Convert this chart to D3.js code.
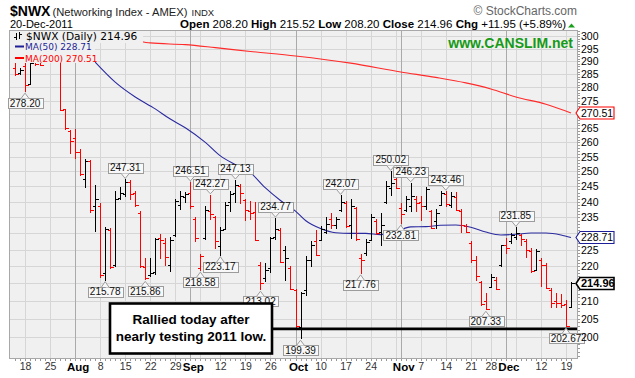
<!DOCTYPE html>
<html>
<head>
<meta charset="utf-8">
<title>$NWX Daily</title>
<script src="https://d3js.org/d3.v7.min.js"></script>
<style>
  body { margin: 0; background: #fff; }
  svg { display: block; font-family: "Liberation Sans", Arial, sans-serif; }
</style>
</head>
<body>
<div id="chart"></div>
<script>
// trading days Jul 14 - Dec 20 2011 (weekends and market holidays skipped)
const firstDay = "2011-07-14", lastDay = "2011-12-20";
const holidays = ["2011-09-05", "2011-11-24"];

// daily OHLC
const open = [
  287.5, 285.3, 288.0, 281.2, 291.0, 290.5, 289.6, 290.5, 290.3, 291.0,
  271.8, 264.0, 261.5, 256.8, 247.5, 253.5, 238.5, 238.5, 218.0, 231.0,
  220.5, 241.2, 242.5, 246.5, 242.8, 236.5, 219.8, 217.3, 218.2, 228.5,
  227.0, 220.5, 229.5, 239.0, 241.5, 243.0, 234.5, 219.5, 228.5, 237.0,
  235.0, 226.0, 231.5, 239.8, 243.0, 245.3, 240.5, 237.0, 236.8, 220.5,
  216.5, 219.5, 229.0, 231.0, 225.0, 219.5, 213.0, 202.8, 213.0, 222.0,
  227.5, 228.0, 230.5, 234.5, 232.5, 237.5, 239.5, 232.5, 238.0, 222.5,
  224.0, 228.0, 234.0, 230.5, 239.8, 244.5, 247.5, 238.0, 237.5, 238.5,
  241.0, 240.0, 238.5, 237.0, 234.0, 239.0, 242.5, 238.8, 241.5, 237.0,
  232.2, 227.0, 222.0, 215.5, 210.0, 214.0, 216.0, 220.5, 226.5, 227.5,
  229.0, 229.5, 227.5, 224.5, 219.0, 222.0, 220.5, 213.0, 210.0, 209.5,
  209.0, 208.20
];
const high = [
  289.3, 287.6, 289.5, 290.5, 292.5, 292.0, 292.5, 292.0, 293.0, 291.8,
  272.0, 264.5, 264.8, 257.6, 254.2, 253.8, 245.5, 239.5, 232.0, 231.6,
  243.5, 244.8, 247.31, 247.2, 243.6, 237.0, 222.5, 222.5, 228.5, 229.8,
  228.6, 228.8, 241.0, 243.4, 243.2, 246.51, 235.0, 223.8, 238.7, 242.27,
  235.4, 232.0, 239.8, 243.5, 247.13, 245.7, 240.8, 240.3, 240.0, 221.2,
  221.0, 229.0, 234.77, 231.8, 226.0, 220.0, 213.5, 212.6, 223.0, 227.5,
  231.0, 232.3, 235.0, 236.5, 235.0, 242.07, 240.3, 240.8, 238.4, 223.6,
  228.2, 236.2, 234.4, 236.3, 246.8, 250.02, 248.5, 239.7, 242.0, 246.23,
  241.9, 242.0, 244.8, 237.5, 237.6, 243.6, 243.46, 243.3, 243.2, 237.6,
  232.8, 227.6, 223.2, 215.6, 212.2, 217.7, 216.9, 226.5, 228.7, 230.2,
  231.85, 229.8, 228.2, 225.5, 225.1, 222.5, 221.1, 213.7, 212.2, 212.0,
  210.1, 215.52
];
const low = [
  284.2, 284.8, 278.20, 280.8, 288.2, 288.0, 289.5, 289.6, 289.7, 271.2,
  264.5, 256.0, 254.2, 248.6, 244.5, 236.5, 230.4, 216.5, 215.78, 219.3,
  219.8, 240.5, 241.6, 240.5, 238.2, 219.5, 215.86, 216.8, 217.5, 222.2,
  220.0, 218.2, 228.8, 237.5, 239.5, 237.6, 227.2, 218.58, 228.0, 234.3,
  225.2, 223.17, 231.0, 236.7, 239.7, 239.2, 234.0, 234.3, 227.5, 213.02,
  215.5, 218.0, 228.0, 221.0, 215.8, 213.0, 202.5, 199.39, 211.5, 219.8,
  223.0, 227.5, 229.8, 231.3, 231.3, 236.8, 231.8, 228.2, 227.7, 217.76,
  223.2, 227.7, 229.6, 226.2, 239.2, 242.0, 244.0, 232.81, 236.8, 236.8,
  236.8, 234.0, 237.5, 231.2, 231.5, 238.5, 238.4, 238.0, 236.9, 230.0,
  230.0, 221.0, 215.6, 208.4, 207.33, 213.8, 213.0, 219.9, 223.6, 226.8,
  228.0, 226.0, 222.5, 218.0, 218.8, 214.0, 213.3, 208.1, 208.1, 208.0,
  202.67, 208.20
];
const close = [
  285.0, 286.8, 280.8, 289.5, 289.0, 288.7, 291.5, 290.2, 291.0, 271.6,
  265.0, 260.5, 256.8, 249.2, 253.5, 237.2, 241.0, 217.3, 231.2, 219.7,
  240.9, 243.0, 246.5, 242.5, 239.0, 220.0, 216.5, 218.0, 228.2, 227.8,
  222.9, 228.0, 240.2, 242.0, 242.5, 238.5, 228.5, 223.0, 237.5, 236.0,
  227.5, 231.0, 239.0, 242.5, 245.5, 243.0, 237.5, 236.5, 227.8, 215.0,
  219.0, 228.5, 231.3, 221.3, 222.5, 213.5, 203.0, 212.3, 221.8, 226.5,
  223.5, 231.5, 233.0, 232.5, 234.5, 239.8, 232.2, 238.5, 228.2, 222.0,
  227.3, 235.0, 230.0, 232.5, 245.0, 246.0, 244.5, 236.0, 241.0, 242.0,
  239.5, 238.5, 244.0, 231.6, 236.5, 242.8, 239.2, 241.8, 237.4, 232.5,
  230.5, 222.0, 217.0, 209.0, 207.6, 216.9, 213.4, 226.3, 225.5, 229.5,
  230.0, 228.1, 225.0, 218.6, 224.6, 220.5, 213.8, 209.5, 209.3, 208.9,
  203.01, 214.96
];

// moving averages read at some bars: bar index and value
const ma50Idx = [16, 20, 24, 28, 31, 34, 38, 41, 44, 47, 50, 53, 56, 58, 61, 64,
  67, 70, 73, 76, 79, 82, 85, 88, 91, 94, 97, 100, 103, 106, 109, 111];
const ma50Val = [289.7, 282.0, 276.4, 272.0, 268.3, 265.2, 260.0, 255.3, 252.3, 249.6,
  244.5, 240.4, 237.0, 234.0, 231.5, 230.2, 230.0, 230.0, 229.6, 230.5,
  232.0, 232.1, 232.5, 232.6, 231.9, 230.4, 229.5, 229.7, 230.1, 230.1, 229.5, 228.71];
const ma200Idx = [25, 27, 34, 40, 47, 56, 67, 77, 84, 90, 95, 100, 106, 111];
const ma200Val = [298.0, 297.3, 296.6, 295.4, 293.9, 292.1, 289.3, 285.9, 283.8, 281.7,
  279.4, 276.4, 273.7, 270.51];

// labelled highs and lows
const noteIdx  = [2, 18, 22, 26, 35, 37, 39, 41, 44, 49, 52, 57, 65, 69, 75, 77, 79, 86, 94, 100, 110];
const noteSide = ["lo", "lo", "hi", "lo", "hi", "lo", "hi", "lo", "hi", "lo", "hi", "lo",
  "hi", "lo", "hi", "lo", "hi", "hi", "lo", "hi", "lo"];

const yTicks = d3.range(200, 301, 5);
const tickDays = ["2011-07-18", "2011-07-25", "2011-08-01", "2011-08-08", "2011-08-15",
  "2011-08-22", "2011-08-29", "2011-09-01", "2011-09-12", "2011-09-19", "2011-09-26",
  "2011-10-03", "2011-10-10", "2011-10-17", "2011-10-24", "2011-11-01", "2011-11-07",
  "2011-11-14", "2011-11-21", "2011-11-28", "2011-12-01", "2011-12-12", "2011-12-19"];
const tickText = ["18", "25", "Aug", "8", "15", "22", "29", "Sep", "12", "19", "26",
  "Oct", "10", "17", "24", "Nov", "7", "14", "21", "28", "Dec", "12", "19"];
const supportLevel = 202.2;

const fmt = d3.timeFormat("%Y-%m-%d"), parse = d3.timeParse("%Y-%m-%d");
const days = d3.timeDay.range(parse(firstDay), d3.timeDay.offset(parse(lastDay), 1))
  .filter(d => d.getDay() % 6 !== 0 && !holidays.includes(fmt(d)))
  .map(fmt);

const W = 635, H = 378;
const plot = { left: 9, right: 578, top: 30, bottom: 359 };
const bg = "#f0f0f0";

const svg = d3.select("#chart").append("svg").attr("width", W).attr("height", H);

const x = d3.scalePoint().domain(days).range([15, 571]);
const y = d3.scaleLog().domain([194.16, 302.52]).range([plot.bottom, plot.top]);
const px = d => Math.round(x(d)) + 0.5;

svg.append("clipPath").attr("id", "clip").append("rect")
  .attr("x", plot.left).attr("y", plot.top)
  .attr("width", plot.right - plot.left).attr("height", plot.bottom - plot.top);

svg.append("rect")
  .attr("x", plot.left).attr("y", plot.top)
  .attr("width", plot.right - plot.left).attr("height", plot.bottom - plot.top)
  .attr("fill", bg);

// grid
const grid = svg.append("g").attr("shape-rendering", "crispEdges");
grid.selectAll(".h").data(yTicks).join("line")
  .attr("x1", plot.left).attr("x2", plot.right)
  .attr("y1", d => Math.round(y(d)) + 0.5).attr("y2", d => Math.round(y(d)) + 0.5)
  .attr("stroke", "#d6d6d6");
const weekStarts = days.filter((d, i) => i > 0 &&
  +d3.timeMonday.floor(parse(d)) !== +d3.timeMonday.floor(parse(days[i - 1])));
const monthStarts = days.filter((d, i) => i > 0 && d.slice(5, 7) !== days[i - 1].slice(5, 7));
grid.selectAll(".w").data(weekStarts).join("line")
  .attr("x1", px).attr("x2", px).attr("y1", plot.top).attr("y2", plot.bottom)
  .attr("stroke", "#d6d6d6");
grid.selectAll(".m").data(monthStarts).join("line")
  .attr("x1", px).attr("x2", px).attr("y1", plot.top).attr("y2", plot.bottom)
  .attr("stroke", "#aaaaaa");

const body = svg.append("g").attr("clip-path", "url(#clip)");

// moving averages
const maLine = d3.line().x(d => x(days[d[0]])).y(d => y(d[1])).curve(d3.curveMonotoneX);
body.append("path").datum(d3.zip(ma200Idx, ma200Val)).attr("d", maLine)
  .attr("fill", "none").attr("stroke", "#ff2a2a").attr("stroke-width", 1.1);
body.append("path").datum(d3.zip(ma50Idx, ma50Val)).attr("d", maLine)
  .attr("fill", "none").attr("stroke", "#2a2aa0").attr("stroke-width", 1.1);

// OHLC bars
const bars = body.append("g").attr("shape-rendering", "crispEdges")
  .selectAll("g").data(days).join("g")
  .attr("stroke", (d, i) => (i === 0 ? close[i] < open[i] : close[i] < close[i - 1]) ? "#ff0000" : "#000000");
bars.append("line")
  .attr("x1", px).attr("x2", px)
  .attr("y1", (d, i) => y(high[i])).attr("y2", (d, i) => y(low[i]));
bars.append("line")
  .attr("x1", d => px(d) - 3).attr("x2", px)
  .attr("y1", (d, i) => Math.round(y(open[i])) + 0.5).attr("y2", (d, i) => Math.round(y(open[i])) + 0.5);
bars.append("line")
  .attr("x1", px).attr("x2", d => px(d) + 3.5)
  .attr("y1", (d, i) => Math.round(y(close[i])) + 0.5).attr("y2", (d, i) => Math.round(y(close[i])) + 0.5);

// support line
svg.append("line")
  .attr("x1", 272).attr("x2", plot.right)
  .attr("y1", y(supportLevel)).attr("y2", y(supportLevel))
  .attr("stroke", "#000").attr("stroke-width", 2.6);

// plot frame and small ticks
svg.append("rect")
  .attr("x", plot.left + 0.5).attr("y", plot.top + 0.5)
  .attr("width", plot.right - plot.left - 1).attr("height", plot.bottom - plot.top - 1)
  .attr("fill", "none").attr("stroke", "#a8a8a8").attr("shape-rendering", "crispEdges");
svg.append("g").attr("shape-rendering", "crispEdges").selectAll("line").data(days).join("line")
  .attr("x1", px).attr("x2", px).attr("y1", plot.bottom).attr("y2", plot.bottom + 2)
  .attr("stroke", "#999");
svg.append("g").attr("shape-rendering", "crispEdges").selectAll("line").data(d3.range(195, 303)).join("line")
  .attr("x1", plot.right).attr("x2", plot.right + 2)
  .attr("y1", d => Math.round(y(d)) + 0.5).attr("y2", d => Math.round(y(d)) + 0.5)
  .attr("stroke", "#999");

// high / low labels
const notes = svg.append("g").attr("font-size", 10);
noteIdx.forEach((i, k) => {
  const hi = noteSide[k] === "hi";
  const v = hi ? high[i] : low[i];
  const cx = x(days[i]);
  const tip = hi ? y(v) - 1 : y(v) + 1;
  const edge = hi ? tip - 5 : tip + 5;
  const g = notes.append("g");
  const r = g.append("rect").attr("fill", "#f8f8f8").attr("stroke", "#9c9c9c")
    .attr("shape-rendering", "crispEdges");
  const t = g.append("text").attr("x", cx).attr("text-anchor", "middle")
    .attr("y", hi ? edge - 2 : edge + 8.5).attr("fill", "#111").text(v.toFixed(2));
  const w = t.node().getComputedTextLength() + 4;
  r.attr("x", Math.round(cx - w / 2) + 0.5).attr("width", Math.round(w))
    .attr("y", Math.round(hi ? edge - 10 : edge) + 0.5).attr("height", 10);
  g.append("path")
    .attr("d", `M${cx - 4},${Math.round(edge) + 0.5}L${cx},${tip}L${cx + 4},${Math.round(edge) + 0.5}`)
    .attr("fill", "#f8f8f8").attr("stroke", "#9c9c9c");
});

// legend, opaque over the bars
const leg = svg.append("g");
leg.append("rect").attr("x", plot.left + 1).attr("y", plot.top + 1).attr("width", 133).attr("height", 12).attr("fill", bg);
leg.append("rect").attr("x", plot.left + 1).attr("y", plot.top + 13).attr("width", 85).attr("height", 20).attr("fill", bg);
leg.append("path").attr("d", "M16.5,33V40M14,37H16.5M19.5,32V39M19.5,34H22")
  .attr("stroke", "#000").attr("fill", "none").attr("shape-rendering", "crispEdges");
leg.append("text").attr("x", 26).attr("y", 39.5)
  .attr("font-family", "DejaVu Sans").attr("font-size", 10.6).attr("fill", "#000")
  .text(`$NWX (Daily) ${close[close.length - 1].toFixed(2)}`);
[["MA(50)", ma50Val, "#1e1e96", 50], ["MA(200)", ma200Val, "#ff0000", 61.5]].forEach(([name, vals, col, by]) => {
  leg.append("line").attr("x1", 15).attr("x2", 24).attr("y1", by - 3.5).attr("y2", by - 3.5)
    .attr("stroke", col).attr("stroke-width", 2);
  leg.append("text").attr("x", 25).attr("y", by)
    .attr("font-family", "DejaVu Sans").attr("font-size", 9).attr("fill", col)
    .text(`${name} ${vals[vals.length - 1].toFixed(2)}`);
});

// annotation
svg.append("rect").attr("x", 110).attr("y", 303.5).attr("width", 162).attr("height", 50)
  .attr("fill", "#fff").attr("stroke", "#000").attr("stroke-width", 2.6);
svg.append("text").attr("x", 191).attr("y", 324).attr("text-anchor", "middle")
  .attr("font-size", 13.5).attr("font-weight", "bold").text("Rallied today after");
svg.append("text").attr("x", 191).attr("y", 341).attr("text-anchor", "middle")
  .attr("font-size", 13.5).attr("font-weight", "bold").text("nearly testing 2011 low.");

svg.append("text").attr("x", 573).attr("y", 48).attr("text-anchor", "end")
  .attr("font-size", 14).attr("font-weight", "bold").attr("fill", "#179a17")
  .text("www.CANSLIM.net");

// right axis
const last = close.length - 1;
const boxes = [
  [ma200Val[ma200Val.length - 1], "#ff0000", false],
  [ma50Val[ma50Val.length - 1], "#1e1e96", false],
  [close[last], "#000000", true]
];
const axisTicks = yTicks.filter(t => boxes.every(b => Math.abs(y(t) - y(b[0])) > 8));
svg.append("g").attr("transform", `translate(${plot.right},0)`)
  .call(d3.axisRight(y).tickValues(axisTicks).tickFormat(d3.format("d")).tickSize(0).tickPadding(3))
  .call(g => g.select(".domain").remove())
  .call(g => g.selectAll("text").attr("font-size", 10.5).attr("fill", "#000")
    .attr("font-family", "Liberation Sans, Arial, sans-serif"));

boxes.forEach(([v, col, bold]) => {
  const cy = y(v);
  svg.append("path")
    .attr("d", `M${plot.right + 2},${cy - 6}H614V${cy + 6}H${plot.right + 2}L${plot.right - 2},${cy}Z`)
    .attr("fill", "#fff").attr("stroke", col).attr("stroke-width", bold ? 1.6 : 1.1);
  svg.append("text").attr("x", 581).attr("y", cy + 4)
    .attr("font-size", bold ? 11 : 10.5).attr("font-weight", bold ? "bold" : "normal")
    .attr("fill", "#000").text(v.toFixed(2));
});

// bottom axis
const isMonth = t => /[A-Za-z]/.test(t);
svg.append("g").attr("transform", `translate(0,${plot.bottom})`)
  .call(d3.axisBottom(x).tickValues(tickDays).tickFormat((d, i) => tickText[i]).tickSize(0).tickPadding(4))
  .call(g => g.select(".domain").remove())
  .call(g => g.selectAll("text")
    .attr("font-family", "Liberation Sans, Arial, sans-serif")
    .attr("dx", (d, i) => isMonth(tickText[i]) ? 2.5 : 0)
    .attr("font-size", (d, i) => isMonth(tickText[i]) ? 11.5 : 10.5)
    .attr("font-weight", (d, i) => isMonth(tickText[i]) ? "bold" : "normal")
    .attr("fill", (d, i) => isMonth(tickText[i]) ? "#000" : "#333"));

// header
svg.append("text").attr("x", 10).attr("y", 15.5).attr("font-size", 14).attr("font-weight", "bold").text("$NWX");
svg.append("text").attr("x", 52.5).attr("y", 15.5).attr("font-size", 11.2).attr("fill", "#222").text("(Networking Index - AMEX)");
svg.append("text").attr("x", 191.5).attr("y", 15.5).attr("font-size", 9.5).attr("fill", "#222").text("INDX");
svg.append("text").attr("x", 577).attr("y", 15).attr("text-anchor", "end").attr("font-size", 12)
  .attr("fill", "#666").text("\u00A9 StockCharts.com");
svg.append("text").attr("x", 10).attr("y", 28).attr("font-size", 11)
  .text(d3.timeFormat("%d-%b-%Y")(parse(days[last])));

const chg = close[last] - close[last - 1];
const parts = [
  ["Open", true], [` ${open[last].toFixed(2)} `, false],
  ["High", true], [` ${high[last].toFixed(2)} `, false],
  ["Low", true], [` ${low[last].toFixed(2)} `, false],
  ["Close", true], [` ${close[last].toFixed(2)} `, false],
  ["Chg", true], [` +${chg.toFixed(2)} (+${(chg / close[last - 1] * 100).toFixed(2)}%)`, false]
];
svg.append("text").attr("x", 566).attr("y", 28).attr("text-anchor", "end").attr("font-size", 11.5)
  .selectAll("tspan").data(parts).join("tspan")
  .attr("font-weight", d => d[1] ? "bold" : "normal")
  .style("white-space", "pre").text(d => d[0]);
svg.append("path").attr("d", "M568,27.5L571.5,23.5L575,27.5Z").attr("fill", "#1aa01a");
</script>
</body>
</html>
